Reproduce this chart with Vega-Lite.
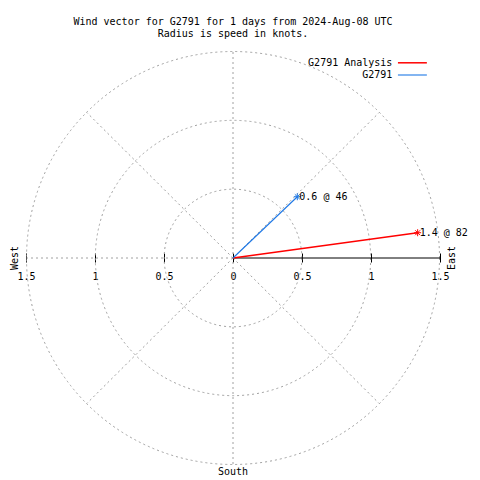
{
  "$schema": "https://vega.github.io/schema/vega-lite/v6.json",
  "width": 414,
  "height": 412,
  "autosize": {"type": "none"},
  "padding": {"left": 26, "top": 52, "right": 40, "bottom": 16},
  "background": "white",
  "config": {"view": {"stroke": null}},
  "title": {
    "text": ["Wind vector for G2791 for 1 days from 2024-Aug-08 UTC", "Radius is speed in knots."],
    "font": "DejaVu Sans Mono",
    "fontSize": 10,
    "fontWeight": "normal",
    "color": "black",
    "anchor": "middle",
    "frame": "group",
    "offset": 10.5,
    "lineHeight": 12.5
  },
  "datasets": {
    "rings": [{"r": 0.5}, {"r": 1}, {"r": 1.5}],
    "spokes": [
      {"x": 0, "y": 1.5, "x2": 0, "y2": -1.5},
      {"x": -1.5, "y": 0, "x2": 0, "y2": 0},
      {"x": 0, "y": 0, "x2": 1.06, "y2": 1.06},
      {"x": 0, "y": 0, "x2": -1.06, "y2": 1.06},
      {"x": 0, "y": 0, "x2": -1.06, "y2": -1.06},
      {"x": 0, "y": 0, "x2": 1.06, "y2": -1.06}
    ],
    "eastAxis": [{"x": 0, "y": 0, "x2": 1.5, "y2": 0}],
    "vectors": [
      {"series": "G2791 Analysis", "x0": 0, "y0": 0, "x": 1.338, "y": 0.184, "label": "1.4 @ 82"},
      {"series": "G2791", "x0": 0, "y0": 0, "x": 0.466, "y": 0.446, "label": "0.6 @ 46"}
    ],
    "compass": [
      {"name": "West", "x": -1.5, "y": 0},
      {"name": "East", "x": 1.5, "y": 0},
      {"name": "South", "x": 0, "y": -1.5}
    ]
  },
  "layer": [
    {
      "data": {"name": "rings"},
      "mark": {"type": "point", "shape": "circle", "filled": false, "stroke": "#a0a0a0", "strokeWidth": 1, "strokeDash": [2, 3], "opacity": 1},
      "encoding": {
        "x": {"datum": 0, "type": "quantitative", "scale": {"domain": [-1.5, 1.5], "nice": false, "zero": false},
          "axis": {"orient": "bottom", "offset": -211, "values": [-1.5, -1, -0.5, 0, 0.5, 1, 1.5], "domain": false, "grid": false, "ticks": true, "tickSize": 9, "tickColor": "black", "tickWidth": 1, "labelPadding": 9, "labelFont": "DejaVu Sans Mono", "labelFontSize": 10, "labelColor": "black", "labelFlush": false, "labelOverlap": false, "labelExpr": "format(abs(datum.value), '')", "title": null}},
        "y": {"datum": 0, "type": "quantitative", "scale": {"domain": [-1.5, 1.5], "nice": false, "zero": false}, "axis": null},
        "size": {"field": "r", "type": "quantitative", "scale": {"type": "pow", "exponent": 2, "domain": [0, 1.5], "range": [0, 170569], "zero": true, "nice": false}, "legend": null}
      }
    },
    {
      "data": {"name": "spokes"},
      "mark": {"type": "rule", "color": "#a0a0a0", "strokeWidth": 1, "strokeDash": [2, 3]},
      "encoding": {
        "x": {"field": "x", "type": "quantitative"},
        "y": {"field": "y", "type": "quantitative"},
        "x2": {"field": "x2"},
        "y2": {"field": "y2"}
      }
    },
    {
      "data": {"name": "eastAxis"},
      "mark": {"type": "rule", "color": "black", "strokeWidth": 1},
      "encoding": {
        "x": {"field": "x", "type": "quantitative"},
        "y": {"field": "y", "type": "quantitative"},
        "x2": {"field": "x2"},
        "y2": {"field": "y2"}
      }
    },
    {
      "data": {"name": "vectors"},
      "mark": {"type": "rule"},
      "encoding": {
        "x": {"field": "x0", "type": "quantitative"},
        "y": {"field": "y0", "type": "quantitative"},
        "x2": {"field": "x"},
        "y2": {"field": "y"},
        "color": {"field": "series", "type": "nominal",
          "scale": {"domain": ["G2791 Analysis", "G2791"], "range": ["#ff0000", "#1e78e6"]},
          "legend": {"title": null, "orient": "none", "legendX": 380.4, "legendY": 4.8, "symbolType": "M-3,0H3", "symbolSize": 93, "symbolStrokeWidth": 1.5, "labelAlign": "right", "labelOffset": -26, "labelFont": "DejaVu Sans Mono", "labelFontSize": 10, "labelColor": "black", "rowPadding": 1.7, "padding": 0}},
        "strokeWidth": {"field": "series", "type": "nominal", "scale": {"domain": ["G2791 Analysis", "G2791"], "range": [1.5, 1.1]}, "legend": null}
      }
    },
    {
      "data": {"name": "vectors"},
      "mark": {"type": "point", "shape": "M-1,0H1M0,-1V1M-0.7,-0.7L0.7,0.7M-0.7,0.7L0.7,-0.7", "filled": false, "size": 49, "strokeWidth": 1, "opacity": 1},
      "encoding": {
        "x": {"field": "x", "type": "quantitative"},
        "y": {"field": "y", "type": "quantitative"},
        "stroke": {"field": "series", "type": "nominal", "scale": {"domain": ["G2791 Analysis", "G2791"], "range": ["#ff0000", "#1e78e6"]}, "legend": null}
      }
    },
    {
      "data": {"name": "vectors"},
      "mark": {"type": "text", "align": "left", "baseline": "middle", "dx": 2, "font": "DejaVu Sans Mono", "fontSize": 10, "color": "black"},
      "encoding": {
        "x": {"field": "x", "type": "quantitative"},
        "y": {"field": "y", "type": "quantitative"},
        "text": {"field": "label"}
      }
    },
    {
      "data": {"name": "compass"},
      "transform": [{"filter": "datum.name === 'West'"}],
      "mark": {"type": "text", "align": "center", "baseline": "middle", "angle": 270, "dy": -11.5, "font": "DejaVu Sans Mono", "fontSize": 10, "color": "black"},
      "encoding": {
        "x": {"field": "x", "type": "quantitative"},
        "y": {"field": "y", "type": "quantitative"},
        "text": {"field": "name"}
      }
    },
    {
      "data": {"name": "compass"},
      "transform": [{"filter": "datum.name === 'East'"}],
      "mark": {"type": "text", "align": "center", "baseline": "middle", "angle": 270, "dy": 12, "font": "DejaVu Sans Mono", "fontSize": 10, "color": "black"},
      "encoding": {
        "x": {"field": "x", "type": "quantitative"},
        "y": {"field": "y", "type": "quantitative"},
        "text": {"field": "name"}
      }
    },
    {
      "data": {"name": "compass"},
      "transform": [{"filter": "datum.name === 'South'"}],
      "mark": {"type": "text", "align": "center", "baseline": "middle", "dy": 7.5, "font": "DejaVu Sans Mono", "fontSize": 10, "color": "black"},
      "encoding": {
        "x": {"field": "x", "type": "quantitative"},
        "y": {"field": "y", "type": "quantitative"},
        "text": {"field": "name"}
      }
    }
  ]
}
